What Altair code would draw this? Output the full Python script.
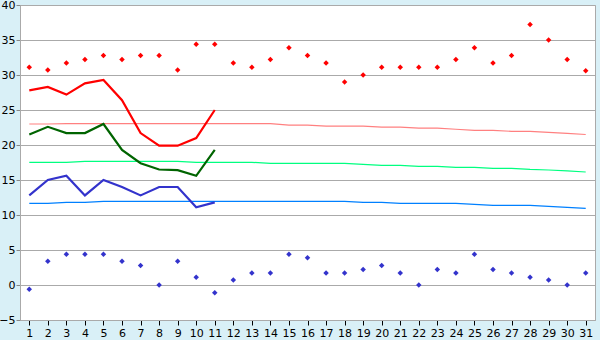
import altair as alt
import pandas as pd

days = list(range(1, 32))
tmax_points = [31.1, 30.7, 31.7, 32.2, 32.8, 32.2, 32.8, 32.8, 30.7, 34.4, 34.4, 31.7, 31.1, 32.2, 33.9, 32.8,
               31.7, 29.0, 30.0, 31.1, 31.1, 31.1, 31.1, 32.2, 33.9, 31.7, 32.8, 37.2, 35.0, 32.2, 30.6]
tmin_points = [-0.6, 3.4, 4.4, 4.4, 4.4, 3.4, 2.8, 0.0, 3.4, 1.1, -1.1, 0.7, 1.7, 1.7, 4.4, 3.9,
               1.7, 1.7, 2.2, 2.8, 1.7, 0.0, 2.2, 1.7, 4.4, 2.2, 1.7, 1.1, 0.7, 0.0, 1.7]
line_days = list(range(1, 12))
max_line = [27.8, 28.3, 27.2, 28.8, 29.3, 26.4, 21.7, 19.9, 19.9, 21.0, 25.0]
mean_line = [21.5, 22.6, 21.7, 21.7, 23.0, 19.3, 17.4, 16.5, 16.4, 15.6, 19.3]
min_line = [12.8, 15.0, 15.6, 12.8, 15.0, 14.0, 12.8, 14.0, 14.0, 11.1, 11.8]
normal_max = [23.0, 23.0, 23.05, 23.05, 23.05, 23.05, 23.05, 23.05, 23.05, 23.05, 23.05, 23.05, 23.05, 23.05,
              22.85, 22.85, 22.7, 22.7, 22.7, 22.55, 22.55, 22.4, 22.4, 22.25, 22.1, 22.1, 21.95, 21.95,
              21.8, 21.65, 21.5]
normal_mean = [17.52, 17.52, 17.52, 17.67, 17.67, 17.67, 17.67, 17.67, 17.67, 17.52, 17.52, 17.52, 17.52,
               17.38, 17.38, 17.38, 17.38, 17.38, 17.24, 17.1, 17.1, 16.95, 16.95, 16.81, 16.81, 16.67,
               16.67, 16.52, 16.43, 16.29, 16.14]
normal_min = [11.67, 11.67, 11.81, 11.81, 11.95, 11.95, 11.95, 11.95, 11.95, 11.95, 11.95, 11.95, 11.95,
              11.95, 11.95, 11.95, 11.95, 11.95, 11.81, 11.81, 11.67, 11.67, 11.67, 11.67, 11.52, 11.38,
              11.38, 11.38, 11.24, 11.1, 10.95]

rows = []
for name, xs, vals in [
    ("normal_max", days, normal_max),
    ("normal_mean", days, normal_mean),
    ("normal_min", days, normal_min),
    ("max", line_days, max_line),
    ("mean", line_days, mean_line),
    ("min", line_days, min_line),
]:
    for d, v in zip(xs, vals):
        rows.append({"day": d, "value": v, "series": name})
lines_df = pd.DataFrame(rows)

pts = []
for name, vals in [("pmax", tmax_points), ("pmin", tmin_points)]:
    for d, v in zip(days, vals):
        pts.append({"day": d, "value": v, "series": name})
pts_df = pd.DataFrame(pts)

x = alt.X("day:Q", scale=alt.Scale(domain=[0.5, 31.5], nice=False, zero=False),
          axis=alt.Axis(values=days, title=None, grid=False, labelFont="DejaVu Sans", labelFontSize=11,
                        labelColor="#000000", tickColor="#000000", tickSize=5, domainColor="#AAAAAA",
                        labelPadding=2, labelFlush=False))
y = alt.Y("value:Q", scale=alt.Scale(domain=[-5, 40], nice=False),
          axis=alt.Axis(values=list(range(-5, 41, 5)), title=None, grid=True, gridColor="#AAAAAA",
                        gridWidth=1, labelFont="DejaVu Sans", labelFontSize=11, labelColor="#000000",
                        tickColor="#888888", tickSize=4, domainColor="#AAAAAA", labelPadding=1))

thin = alt.Chart(lines_df[lines_df.series.str.startswith("normal")]).mark_line(strokeWidth=1.2).encode(
    x=x, y=y,
    color=alt.Color("series:N", legend=None,
                    scale=alt.Scale(domain=["normal_max", "normal_mean", "normal_min"],
                                    range=["#FF8080", "#00FF80", "#0080FF"])),
)
thick = alt.Chart(lines_df[~lines_df.series.str.startswith("normal")]).mark_line(strokeWidth=2.2).encode(
    x=x, y=y,
    color=alt.Color("series:N", legend=None,
                    scale=alt.Scale(domain=["max", "mean", "min"],
                                    range=["#FF0000", "#006400", "#3333CC"])),
)
points = alt.Chart(pts_df).mark_point(shape="diamond", filled=True, size=30, opacity=1).encode(
    x=x, y=y,
    color=alt.Color("series:N", legend=None,
                    scale=alt.Scale(domain=["pmax", "pmin"], range=["#FF0000", "#3333CC"])),
)

chart = alt.layer(thin, thick, points).resolve_scale(color="independent").properties(
    width=575, height=315,
    autosize=alt.AutoSizeParams(type="none"),
    padding={"left": 20, "top": 5, "right": 5, "bottom": 20},
    background="#D9F0F7",
).configure_view(fill="#FFFFFF", stroke="#AAAAAA", strokeWidth=1)

chart.save("out.html", embed_options={"renderer": "svg", "actions": False})
